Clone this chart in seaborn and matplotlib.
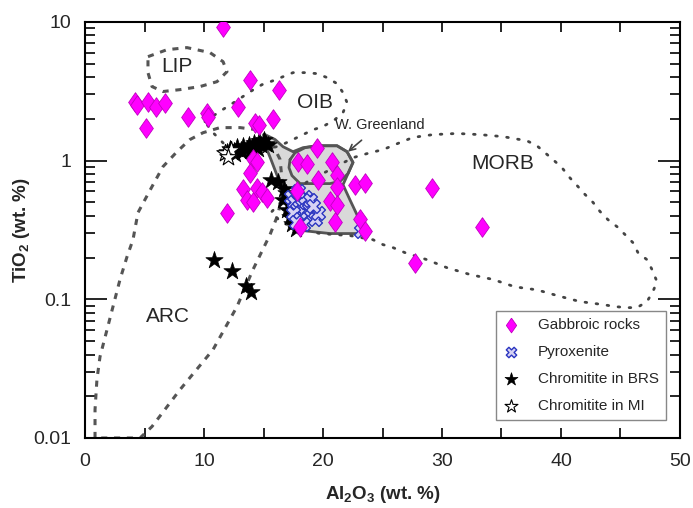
import numpy as np
import pandas as pd
import matplotlib
matplotlib.use("Agg")
import matplotlib.pyplot as plt
import seaborn as sns

# ---- data (Al2O3 wt.%, TiO2 wt.%) ----
gab_al = [11.6, 4.2, 4.37, 5.3, 5.97, 6.72, 5.13, 8.66, 10.25, 10.34, 12.86, 13.9, 16.3,
          14.3, 14.6, 15.8, 14.1, 14.45, 13.87, 13.28, 14.45, 14.87, 15.3, 13.6, 14.1,
          11.93, 17.8, 19.5, 17.9, 18.66, 20.76, 19.58, 21.18, 21.18, 22.7, 23.53, 20.6,
          21.18, 21.0, 18.07, 23.1, 23.53, 27.7, 29.2, 33.4]
gab_ti = [9.25, 2.66, 2.53, 2.66, 2.45, 2.62, 1.73, 2.08, 2.22, 2.08, 2.45, 3.84, 3.25,
          1.88, 1.82, 1.98, 1.02, 0.97, 0.82, 0.62, 0.64, 0.59, 0.54, 0.52, 0.50,
          0.42, 0.60, 1.24, 0.98, 0.94, 0.97, 0.73, 0.79, 0.65, 0.67, 0.69, 0.51,
          0.48, 0.36, 0.33, 0.38, 0.31, 0.184, 0.64, 0.33]

pyx_al = [17.3, 17.6, 17.8, 18.0, 18.2, 18.4, 18.6, 18.8, 19.0, 19.3, 17.5, 18.1,
          18.5, 19.6, 17.9, 18.3, 17.7, 18.9, 19.2, 23.2]
pyx_ti = [0.55, 0.50, 0.45, 0.52, 0.48, 0.42, 0.50, 0.45, 0.40, 0.38, 0.42, 0.38,
          0.55, 0.42, 0.60, 0.35, 0.36, 0.52, 0.47, 0.31]

brs_al = [11.9, 12.2, 12.5, 12.8, 13.1, 13.3, 13.6, 13.8, 14.0, 14.2, 14.4, 14.6, 14.8,
          15.0, 15.2, 12.6, 13.2, 13.9, 14.5, 15.4, 10.8, 12.35, 13.5, 13.95, 15.6,
          16.2, 16.7, 16.6, 17.0, 17.2, 17.4, 17.7, 16.9]
brs_ti = [1.15, 1.22, 1.18, 1.25, 1.2, 1.28, 1.22, 1.3, 1.25, 1.35, 1.28, 1.38, 1.3,
          1.4, 1.32, 1.12, 1.15, 1.18, 1.22, 1.3, 0.193, 0.161, 0.124, 0.112, 0.73,
          0.70, 0.62, 0.52, 0.44, 0.39, 0.35, 0.32, 0.58]

mi_al = [11.8, 12.3, 12.0]
mi_ti = [1.13, 1.2, 1.07]

# tectonic fields
lip_al = [5.29, 6.89, 8.57, 10.5, 11.6, 11.93, 11.09, 9.66, 7.98, 6.55, 5.63, 5.29, 5.29]
lip_ti = [5.62, 6.31, 6.53, 6.01, 5.17, 4.38, 3.71, 3.42, 3.25, 3.15, 3.42, 4.31, 5.62]

arc_al = [0.84, 0.84, 1.0, 1.26, 1.85, 2.35, 2.94, 3.53, 4.03, 4.45, 5.63, 6.55, 7.73,
          8.82, 9.92, 11.34, 13.03, 14.45, 15.55, 16.39, 16.64, 16.22, 15.55, 14.12,
          12.77, 10.76, 7.98, 5.63, 4.62, 0.84]
arc_ti = [0.01, 0.016, 0.0264, 0.0386, 0.0605, 0.0886, 0.139, 0.203, 0.269, 0.422, 0.65,
          0.905, 1.16, 1.42, 1.59, 1.73, 1.73, 1.67, 1.42, 1.02, 0.618, 0.41, 0.293,
          0.164, 0.0886, 0.0434, 0.0223, 0.0121, 0.01, 0.01]

oib_al = [10.08, 11.18, 12.61, 14.03, 14.87, 15.8, 16.64, 17.48, 18.49, 19.5, 20.34,
          21.18, 21.68, 22.02, 21.68, 21.01, 20.0, 19.16, 18.32, 17.48, 16.39, 15.13,
          13.45, 11.76, 10.67, 10.08]
oib_ti = [1.91, 2.22, 2.66, 3.20, 3.53, 3.77, 4.03, 4.31, 4.31, 4.24, 3.97, 3.59, 3.09,
          2.62, 2.22, 1.98, 1.76, 1.67, 1.54, 1.42, 1.28, 1.20, 1.16, 1.30, 1.62, 1.91]

morb_al = [15.71, 16.81, 18.74, 20.59, 22.52, 23.95, 25.04, 26.47, 27.56, 29.24, 31.26,
           33.19, 35.13, 37.14, 37.98, 38.66, 39.33, 40.08, 40.76, 41.43, 42.02, 42.69,
           43.28, 43.95, 44.71, 45.38, 46.05, 46.47, 47.23, 47.65, 48.07, 47.73, 47.23,
           46.39, 45.55, 44.54, 43.53, 41.6, 39.92, 37.98, 36.13, 34.29, 32.35, 30.42,
           28.74, 26.89, 25.88, 25.04, 24.2, 22.27, 19.75, 17.65, 16.39, 15.71]
morb_ti = [0.43, 0.54, 0.71, 0.86, 1.05, 1.14, 1.20, 1.35, 1.47, 1.54, 1.57, 1.54, 1.49,
           1.39, 1.28, 1.14, 1.017, 0.89, 0.75, 0.65, 0.57, 0.50, 0.43, 0.375, 0.334,
           0.293, 0.256, 0.217, 0.193, 0.164, 0.134, 0.114, 0.0963, 0.0871, 0.0871,
           0.0886, 0.0916, 0.0963, 0.105, 0.117, 0.123, 0.139, 0.151, 0.169, 0.193,
           0.217, 0.236, 0.248, 0.269, 0.288, 0.298, 0.329, 0.363, 0.43]

grey_al = [15.13, 15.97, 16.64, 17.48, 18.32, 19.5, 21.18, 22.02, 22.52, 22.1, 21.68,
           22.27, 22.77, 23.28, 23.53, 20.59, 18.32, 17.48, 16.81, 16.22, 15.63, 15.13]
grey_ti = [1.54, 1.42, 1.26, 1.16, 1.24, 1.28, 1.28, 1.16, 0.97, 0.806, 0.67, 0.52, 0.422,
           0.340, 0.298, 0.298, 0.313, 0.388, 0.55, 0.75, 1.017, 1.30]

wg_al = [17.23, 17.65, 18.49, 19.5, 21.18, 22.02, 22.52, 22.1, 21.43, 20.59, 18.07,
         17.39, 17.14, 17.23]
wg_ti = [1.017, 1.14, 1.24, 1.28, 1.28, 1.16, 0.97, 0.806, 0.71, 0.683, 0.683, 0.78,
         0.89, 1.017]

df = pd.concat([
    pd.DataFrame({"Al2O3": gab_al, "TiO2": gab_ti, "group": "Gabbroic rocks"}),
    pd.DataFrame({"Al2O3": pyx_al, "TiO2": pyx_ti, "group": "Pyroxenite"}),
    pd.DataFrame({"Al2O3": brs_al, "TiO2": brs_ti, "group": "Chromitite in BRS"}),
    pd.DataFrame({"Al2O3": mi_al, "TiO2": mi_ti, "group": "Chromitite in MI"}),
], ignore_index=True)

sns.set_style("ticks")
plt.rcParams["font.family"] = ["Liberation Sans", "DejaVu Sans"]
plt.rcParams["mathtext.default"] = "regular"

fig = plt.figure(figsize=(6.93, 5.08), dpi=100)
ax = fig.add_axes([0.1227, 0.1378, 0.8585, 0.819])
ax.set_yscale("log")

# fields
ax.fill(grey_al, grey_ti, color="#d9d9d9", zorder=1)
ax.plot(grey_al, grey_ti, color="#555555", lw=2, zorder=2)
ax.plot(wg_al, wg_ti, color="#555555", lw=2, zorder=2)
dash = (0, (2, 2.2))
dot = (0, (0.6, 3.4))
ax.plot(lip_al, lip_ti, color="#555555", lw=2.2, ls=dash, zorder=2)
ax.plot(arc_al, arc_ti, color="#555555", lw=2.2, ls=dash, zorder=2)
ax.plot(oib_al, oib_ti, color="#444444", lw=2.0, ls=dot, dash_capstyle="round", zorder=2)
ax.plot(morb_al, morb_ti, color="#444444", lw=2.0, ls=dot, dash_capstyle="round", zorder=2)

# diamond a little wider than matplotlib's thin diamond
diamond = [(0, 1), (0.7, 0), (0, -1), (-0.7, 0), (0, 1)]

# samples
sns.scatterplot(data=df[df.group == "Chromitite in BRS"], x="Al2O3", y="TiO2", marker="*",
                s=170, color="black", edgecolor="black", linewidth=0.5,
                label="Chromitite in BRS", ax=ax, zorder=3)
sns.scatterplot(data=df[df.group == "Chromitite in MI"], x="Al2O3", y="TiO2", marker="*",
                s=170, facecolor="white", edgecolor="black", linewidth=0.8,
                label="Chromitite in MI", ax=ax, zorder=3)
sns.scatterplot(data=df[df.group == "Pyroxenite"], x="Al2O3", y="TiO2", marker="X",
                s=100, facecolor="#d6d2f4", edgecolor="#2a35c0", linewidth=1.0,
                label="Pyroxenite", ax=ax, zorder=4)
sns.scatterplot(data=df[df.group == "Gabbroic rocks"], x="Al2O3", y="TiO2", marker=diamond,
                s=200, color="#ff00ff", edgecolor="#c000c0", linewidth=0.6,
                label="Gabbroic rocks", ax=ax, zorder=5)

# field labels
ax.text(7.73, 4.76, "LIP", fontsize=15, ha="center", va="center", zorder=6)
ax.text(19.33, 2.62, "OIB", fontsize=15, ha="center", va="center", zorder=6)
ax.text(35.13, 0.95, "MORB", fontsize=15, ha="center", va="center", zorder=6)
ax.text(6.97, 0.075, "ARC", fontsize=15, ha="center", va="center", zorder=6)
ax.annotate("W. Greenland", xy=(22.1, 1.16), xytext=(24.8, 1.82), fontsize=10.5,
            ha="center", va="center", zorder=6,
            arrowprops=dict(arrowstyle="->", color="#444444", lw=1.2, shrinkA=6, shrinkB=0))

ax.set_xlim(0, 50)
ax.set_ylim(0.01, 10)
ax.set_xticks([0, 10, 20, 30, 40, 50])
ax.set_xticks([5, 15, 25, 35, 45], minor=True)
ax.set_yticks([0.01, 0.1, 1, 10])
ax.set_yticklabels(["0.01", "0.1", "1", "10"])
ax.tick_params(axis="both", which="both", direction="in", top=True, right=True,
               labelsize=14, width=1.2, color="black")
ax.tick_params(axis="x", which="both", length=7, pad=11)
ax.tick_params(axis="y", which="major", length=16, pad=10)
ax.tick_params(axis="y", which="minor", length=7)
for sp in ax.spines.values():
    sp.set_linewidth(1.5)
    sp.set_color("black")

ax.set_xlabel("Al$_2$O$_3$ (wt. %)", fontsize=13.5, fontweight="bold", labelpad=10)
ax.set_ylabel("TiO$_2$ (wt. %)", fontsize=13.5, fontweight="bold", labelpad=1)

handles, labels = ax.get_legend_handles_labels()
order = ["Gabbroic rocks", "Pyroxenite", "Chromitite in BRS", "Chromitite in MI"]
hmap = dict(zip(labels, handles))
leg = ax.legend([hmap[k] for k in order], order, loc="lower right",
                bbox_to_anchor=(0.9765, 0.043), borderaxespad=0, fontsize=11,
                frameon=True, fancybox=False, edgecolor="#888888", framealpha=1,
                labelspacing=0.85, handlelength=1.0, handletextpad=1.3,
                borderpad=0.45, markerscale=0.75)
leg.get_frame().set_linewidth(1.0)
leg.set_zorder(10)

fig.savefig("out.png", dpi=100)
